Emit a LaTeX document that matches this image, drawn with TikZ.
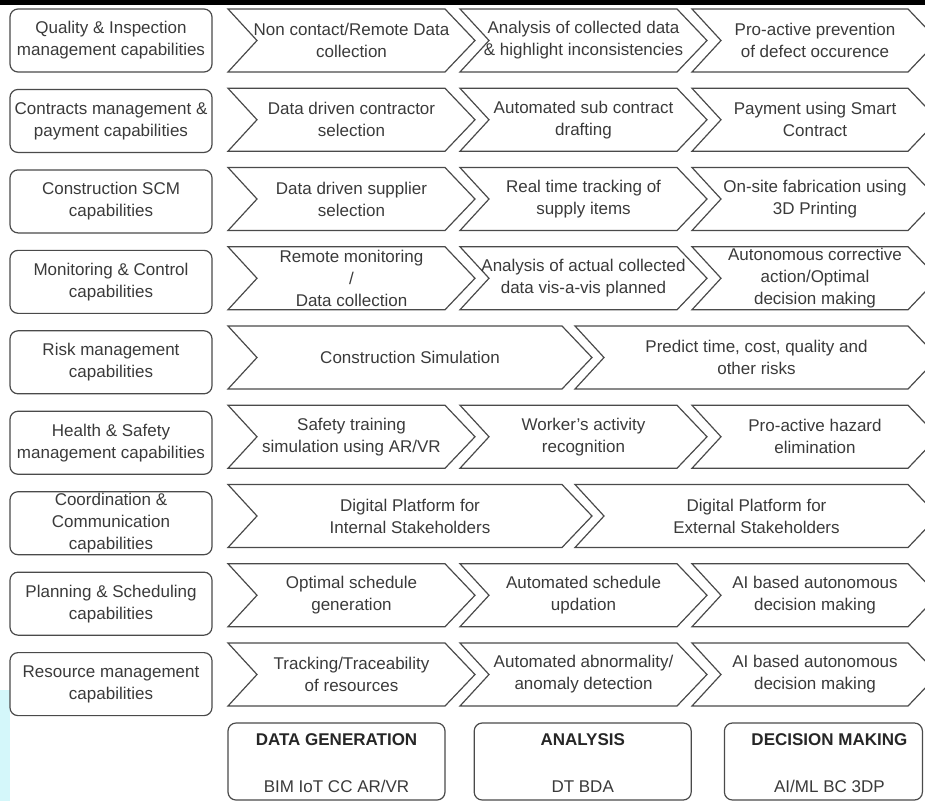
\documentclass[tikz,border=0pt]{standalone}
\usepackage{fontspec}
\setmainfont{Liberation Sans}
\usetikzlibrary{positioning}

\definecolor{boxline}{HTML}{4A4A4A}
\definecolor{boxtext}{HTML}{3A3A3A}
\definecolor{glow}{HTML}{D4F7FA}

% chevron: name, left x, top y, right x, text
\newcommand{\chevron}[5]{%
  \draw[chev] (#2,#3) -- (#4,#3) -- (#4+30,#3+31.5) -- (#4,#3+63)
    -- (#2,#3+63) -- (#2+29,#3+31.5) -- cycle;
  \node[chevtext] (#1) at ({(#2+#4+30)/2},#3+31.5) {#5};}

\begin{document}
\begin{tikzpicture}[x=1pt,y=-1pt,font=\fontsize{17}{22}\selectfont,
    capbox/.style={draw=boxline,line width=1.2pt,rounded corners=8pt,text=boxtext,
      minimum width=202pt,minimum height=63pt,inner sep=0pt,align=center},
    chev/.style={draw=boxline,line width=1.2pt},
    chevtext/.style={text=boxtext,align=center,inner sep=0pt},
    techbox/.style={draw=boxline,line width=1.2pt,rounded corners=8pt,
      minimum width=217pt,minimum height=77pt,inner sep=0pt},
    techhead/.style={text=black!85,font=\fontsize{17}{22}\selectfont\bfseries,anchor=base},
    techlist/.style={text=boxtext,anchor=base}]

  \useasboundingbox (0,0) rectangle (925,801);
  \clip (0,0) rectangle (925,801);

  \fill[black] (0,0) rectangle (925,5);
  \fill[glow] (0,690) rectangle (10,801);

  % capability areas
  \node[capbox] (qual) at (111,40.5) {Quality \& Inspection\\management capabilities};
  \node[capbox,below=16.25pt of qual] (contr) {Contracts management \&\\payment capabilities};
  \node[capbox,below=16.25pt of contr] (scm) {Construction SCM\\capabilities};
  \node[capbox,below=16.25pt of scm] (moni) {Monitoring \& Control\\capabilities};
  \node[capbox,below=16.25pt of moni] (risk) {Risk management\\capabilities};
  \node[capbox,below=16.25pt of risk] (hs) {Health \& Safety\\management capabilities};
  \node[capbox,below=16.25pt of hs] (coord) {Coordination \&\\Communication\\capabilities};
  \node[capbox,below=16.25pt of coord] (plan) {Planning \& Scheduling\\capabilities};
  \node[capbox,below=16.25pt of plan] (res) {Resource management\\capabilities};

  % stages
  \chevron{qual1}{228}{9}{445}{Non contact/Remote Data\\collection}
  \chevron{qual2}{460}{9}{677}{Analysis of collected data\\\& highlight inconsistencies}
  \chevron{qual3}{692}{9}{908}{Pro-active prevention\\of defect occurence}

  \chevron{contr1}{228}{88.25}{445}{Data driven contractor\\selection}
  \chevron{contr2}{460}{88.25}{677}{Automated sub contract\\drafting}
  \chevron{contr3}{692}{88.25}{908}{Payment using Smart\\Contract}

  \chevron{scm1}{228}{167.5}{445}{Data driven supplier\\selection}
  \chevron{scm2}{460}{167.5}{677}{Real time tracking of\\supply items}
  \chevron{scm3}{692}{167.5}{908}{On-site fabrication using\\3D Printing}

  \chevron{moni1}{228}{246.75}{445}{Remote monitoring\\/\\Data collection}
  \chevron{moni2}{460}{246.75}{677}{Analysis of actual collected\\data vis-a-vis planned}
  \chevron{moni3}{692}{246.75}{908}{Autonomous corrective\\action/Optimal\\decision making}

  \chevron{risk1}{228}{326}{562}{Construction Simulation}
  \chevron{risk2}{575}{326}{908}{Predict time, cost, quality and\\other risks}

  \chevron{hs1}{228}{405.25}{445}{Safety training\\simulation using AR/VR}
  \chevron{hs2}{460}{405.25}{677}{Worker's activity\\recognition}
  \chevron{hs3}{692}{405.25}{908}{Pro-active hazard\\elimination}

  \chevron{coord1}{228}{484.5}{562}{Digital Platform for\\Internal Stakeholders}
  \chevron{coord2}{575}{484.5}{908}{Digital Platform for\\External Stakeholders}

  \chevron{plan1}{228}{563.75}{445}{Optimal schedule\\generation}
  \chevron{plan2}{460}{563.75}{677}{Automated schedule\\updation}
  \chevron{plan3}{692}{563.75}{908}{AI based autonomous\\decision making}

  \chevron{res1}{228}{643}{445}{Tracking/Traceability\\of resources}
  \chevron{res2}{460}{643}{677}{Automated abnormality/\\anomaly detection}
  \chevron{res3}{692}{643}{908}{AI based autonomous\\decision making}

  % technologies
  \node[techbox] (gen) at (336.5,761.5) {};
  \node[techbox,right=28pt of gen] (ana) {};
  \node[techbox,minimum width=198pt,right=32pt of ana] (dec) {};

  \node[techhead] (genhead) at ([yshift=-23pt]gen.north) {DATA GENERATION};
  \node[techlist] (genlist) at ([yshift=-70pt]gen.north) {BIM IoT CC AR/VR};
  \node[techhead] (anahead) at ([yshift=-23pt]ana.north) {ANALYSIS};
  \node[techlist] (analist) at ([yshift=-70pt]ana.north) {DT BDA};
  \node[techhead] (dechead) at ([xshift=6pt,yshift=-23pt]dec.north) {DECISION MAKING};
  \node[techlist] (declist) at ([xshift=6pt,yshift=-70pt]dec.north) {AI/ML BC 3DP};

\end{tikzpicture}
\end{document}
